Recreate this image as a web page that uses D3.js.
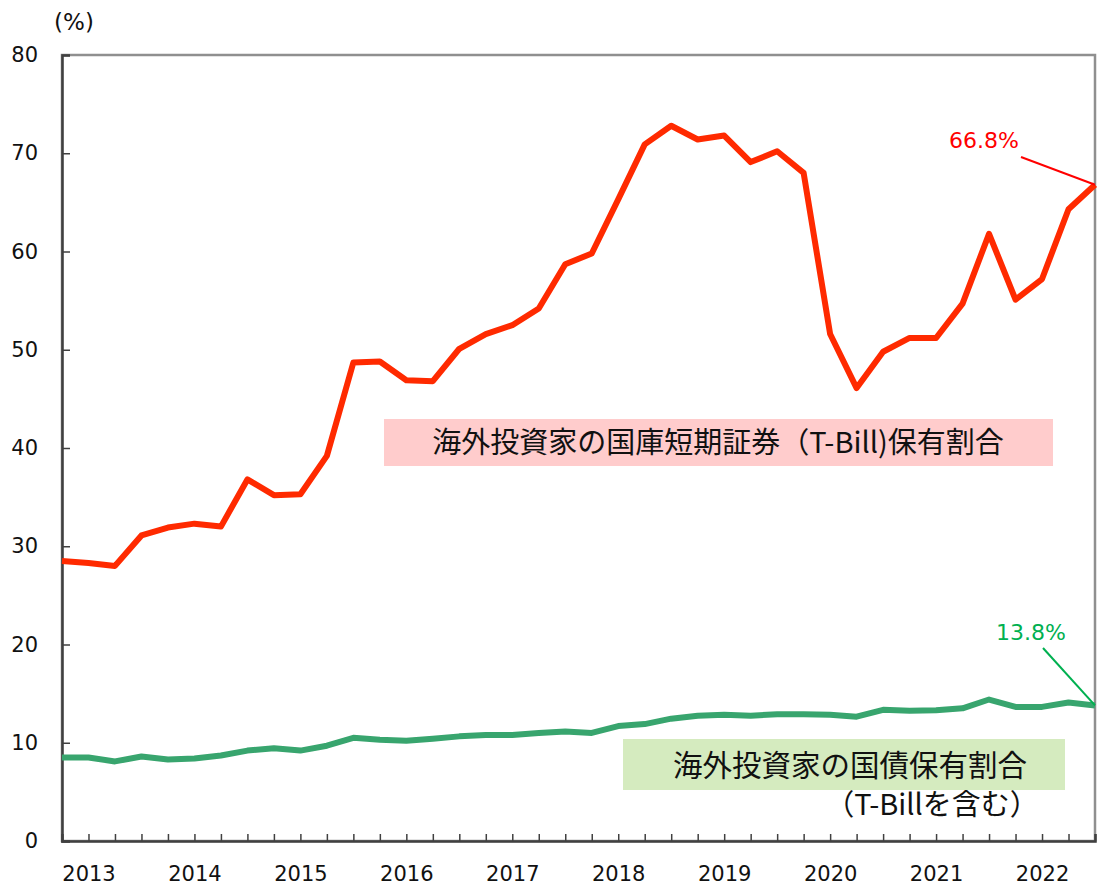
<!DOCTYPE html>
<html>
<head>
<meta charset="utf-8">
<script src="https://cdn.jsdelivr.net/npm/d3@7"></script>
<style>
  body { margin: 0; background: #fff; }
  svg text { font-family: "DejaVu Sans", Verdana, sans-serif; }
  .jp { font-family: "Noto Sans CJK JP", sans-serif; }
</style>
</head>
<body>
<div id="main"></div>
<script>
// quarterly categories, 2012Q4 .. 2022Q3
const quarters = [
  '2012Q4',
  '2013Q1', '2013Q2', '2013Q3', '2013Q4',
  '2014Q1', '2014Q2', '2014Q3', '2014Q4',
  '2015Q1', '2015Q2', '2015Q3', '2015Q4',
  '2016Q1', '2016Q2', '2016Q3', '2016Q4',
  '2017Q1', '2017Q2', '2017Q3', '2017Q4',
  '2018Q1', '2018Q2', '2018Q3', '2018Q4',
  '2019Q1', '2019Q2', '2019Q3', '2019Q4',
  '2020Q1', '2020Q2', '2020Q3', '2020Q4',
  '2021Q1', '2021Q2', '2021Q3', '2021Q4',
  '2022Q1', '2022Q2', '2022Q3'
];

// share of T-Bills held by foreign investors (%)
const tbillShare = [
  28.5, 28.3, 28.0, 31.1, 31.9, 32.3, 32.0, 36.8, 35.2, 35.3,
  39.2, 48.7, 48.8, 46.9, 46.8, 50.1, 51.6, 52.5, 54.2, 58.7,
  59.8, 65.3, 70.9, 72.8, 71.4, 71.8, 69.1, 70.2, 68.0, 51.6,
  46.1, 49.8, 51.2, 51.2, 54.7, 61.8, 55.1, 57.2, 64.3, 66.8
];

// share of JGBs (incl. T-Bills) held by foreign investors (%)
const jgbShare = [
  8.5, 8.5, 8.1, 8.6, 8.3, 8.4, 8.7, 9.2, 9.45, 9.2,
  9.7, 10.5, 10.3, 10.2, 10.4, 10.65, 10.8, 10.8, 11.0, 11.15,
  11.0, 11.7, 11.9, 12.45, 12.75, 12.85, 12.75, 12.9, 12.9, 12.85,
  12.65, 13.35, 13.25, 13.3, 13.5, 14.4, 13.65, 13.65, 14.1, 13.8
];

const yTicks = [0, 10, 20, 30, 40, 50, 60, 70, 80];
const yearLabels = ['2013', '2014', '2015', '2016', '2017', '2018', '2019', '2020', '2021', '2022'];

const w = 1100;
const h = 886;
const plotLeft = 62, plotRight = 1095, plotTop = 55, plotBottom = 841;

const svg = d3.select('#main').
append('svg').
attr('width', w).
attr('height', h);

const xScale = d3.scaleLinear().
domain([0, quarters.length - 1]).
range([plotLeft, plotRight]);

const yScale = d3.scaleLinear().
domain([0, 80]).
range([plotBottom, plotTop]);

// plot frame (top / right in light gray)
svg.append('rect').
attr('x', plotLeft).
attr('y', plotTop).
attr('width', plotRight - plotLeft).
attr('height', plotBottom - plotTop).
attr('fill', 'none').
attr('stroke', '#8f8f8f').
attr('stroke-width', 2.5);

// label boxes
svg.append('rect').
attr('x', 384).
attr('y', 419).
attr('width', 669).
attr('height', 47).
attr('fill', '#ffcccc');

svg.append('text').
attr('class', 'jp').
attr('x', 718).
attr('y', 443).
attr('dy', '0.36em').
attr('text-anchor', 'middle').
attr('font-size', '29px').
attr('fill', '#111').
text('海外投資家の国庫短期証券（T-Bill)保有割合');

svg.append('rect').
attr('x', 623).
attr('y', 739).
attr('width', 442).
attr('height', 51).
attr('fill', '#d5ebbf');

svg.append('text').
attr('class', 'jp').
attr('x', 850).
attr('y', 765).
attr('dy', '0.36em').
attr('text-anchor', 'middle').
attr('font-size', '29.5px').
attr('fill', '#111').
text('海外投資家の国債保有割合');

svg.append('text').
attr('class', 'jp').
attr('x', 932).
attr('y', 805).
attr('dy', '0.36em').
attr('text-anchor', 'middle').
attr('font-size', '29px').
attr('fill', '#111').
text('（T-Billを含む）');

// axes
const xAxis = d3.axisBottom(xScale).
tickValues(d3.range(1, quarters.length)).
tickSize(-7).
tickPadding(25).
tickFormat(i => quarters[i].endsWith('Q1') && yearLabels.includes(quarters[i].slice(0, 4)) ? quarters[i].slice(0, 4) : '');

const yAxis = d3.axisLeft(yScale).
tickValues(yTicks).
tickSize(-8).
tickPadding(24);

const gx = svg.append('g').
attr('transform', 'translate(0,' + plotBottom + ')').
call(xAxis);

const gy = svg.append('g').
attr('transform', 'translate(' + plotLeft + ',0)').
call(yAxis);

[gx, gy].forEach(g => {
  g.select('.domain').attr('stroke', '#404040').attr('stroke-width', 2.5);
  g.selectAll('.tick line').attr('stroke', '#404040').attr('stroke-width', 1.5);
  g.selectAll('.tick text').
  attr('font-size', '21px').
  attr('fill', '#111').
  style('font-family', '"DejaVu Sans", Verdana, sans-serif');
});

svg.append('text').
attr('x', 74).
attr('y', 22).
attr('dy', '0.36em').
attr('text-anchor', 'middle').
attr('font-size', '23px').
attr('fill', '#111').
text('(%)');

// series lines
const line = d3.line().
x((d, i) => xScale(i)).
y(d => yScale(d));

svg.append('path').
datum(jgbShare).
attr('d', line).
attr('fill', 'none').
attr('stroke', '#38a56e').
attr('stroke-width', 6).
attr('stroke-linejoin', 'round');

svg.append('path').
datum(tbillShare).
attr('d', line).
attr('fill', 'none').
attr('stroke', '#ff2a00').
attr('stroke-width', 6).
attr('stroke-linejoin', 'round');

// end value callouts
const last = quarters.length - 1;

svg.append('line').
attr('x1', 1021).
attr('y1', 157).
attr('x2', xScale(last)).
attr('y2', yScale(tbillShare[last])).
attr('stroke', '#ff0000').
attr('stroke-width', 2);

svg.append('text').
attr('x', 984).
attr('y', 140).
attr('dy', '0.36em').
attr('text-anchor', 'middle').
attr('font-size', '22px').
attr('fill', '#ff0000').
text(tbillShare[last].toFixed(1) + '%');

svg.append('line').
attr('x1', 1043).
attr('y1', 648).
attr('x2', xScale(last)).
attr('y2', yScale(jgbShare[last])).
attr('stroke', '#00b050').
attr('stroke-width', 2);

svg.append('text').
attr('x', 1031).
attr('y', 632).
attr('dy', '0.36em').
attr('text-anchor', 'middle').
attr('font-size', '22px').
attr('fill', '#00b050').
text(jgbShare[last].toFixed(1) + '%');
</script>
</body>
</html>
